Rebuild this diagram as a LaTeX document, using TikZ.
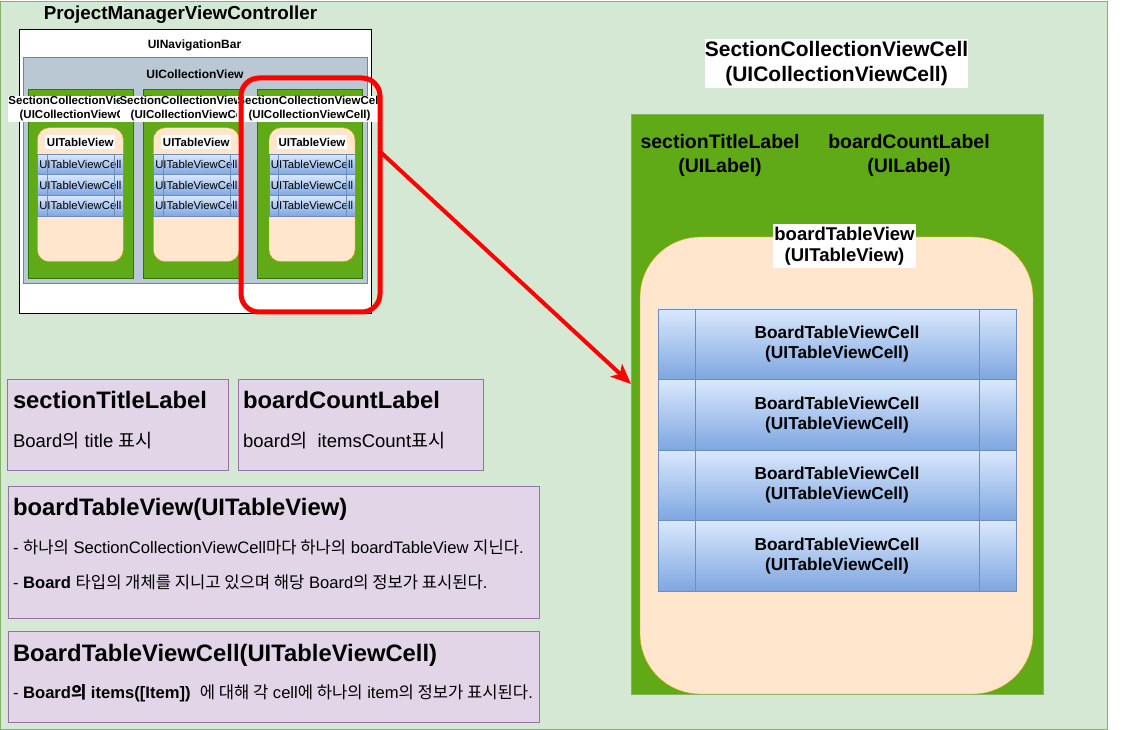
\documentclass[tikz,border=0pt]{standalone}
\usepackage{fontspec}
\setmainfont{Liberation Sans}
\newfontfamily\kr{Noto Sans CJK KR}
\usepackage{tikz}
\usetikzlibrary{positioning}
\usetikzlibrary{arrows.meta}
\newcommand{\fsz}[2]{\fontsize{#1}{#2}\selectfont}
\newcommand{\hangul}[1]{{\kr #1}}
\definecolor{bggreen}{HTML}{D5E8D4}
\definecolor{bgline}{HTML}{82B366}
\definecolor{cellgreen}{HTML}{60A917}
\definecolor{cellline}{HTML}{2D7600}
\definecolor{peach}{HTML}{FFE6CC}
\definecolor{peachline}{HTML}{D79B00}
\definecolor{rowtop}{HTML}{DAE8FC}
\definecolor{rowbottom}{HTML}{7EA6E0}
\definecolor{rowline}{HTML}{6C8EBF}
\definecolor{collfill}{HTML}{BAC8D3}
\definecolor{collline}{HTML}{6F879B}
\definecolor{notefill}{HTML}{E1D5E7}
\definecolor{noteline}{HTML}{9673A6}

\begin{document}
\begin{tikzpicture}[x=1pt,y=-1pt,
	every node/.style={inner sep=0pt,outer sep=0pt},
	greencell/.style={draw=cellline,fill=cellgreen,anchor=north west},
	peachtable/.style={draw=peachline,fill=peach,anchor=north west},
	rowcell/.style={draw=rowline,top color=rowtop,bottom color=rowbottom,anchor=north west},
	whitelabel/.style={fill=white,align=center},
	notebox/.style={draw=noteline,fill=notefill,anchor=north west},
	notehead/.style={anchor=base west,font=\fsz{23.8}{28}\bfseries},
	]
	\useasboundingbox (0,0) rectangle (1128,730);
	% Page %
	\filldraw [fill=bggreen,draw=bgline] (0.5,1) rectangle (1107,729.5);
	% Small View Controller %
	\node [anchor=base,font=\fsz{18.8}{22}\bfseries] (vctitle) at (180.5,20) {ProjectManagerViewController};
	\node [draw=black,fill=white,anchor=north west,minimum width=352,minimum height=284] (vcbox) at (19,29) {};
	\node [font=\fsz{12}{14}\bfseries] (navbar) at (194.5,45) {UINavigationBar};
	\node [draw=collline,fill=collfill,anchor=north west,minimum width=344,minimum height=226] (collview) at (23,57) {};
	\node [font=\fsz{12}{14}\bfseries] (colllabel) at (195,74) {UICollectionView};
	% Small Sections %
	\foreach \cx/\cw/\tx/\n in {27.7/105.7/37.3/a, 143.3/96.7/153.3/b, 256.7/105.7/269/c}
	{
		\node [greencell,minimum width=\cw,minimum height=189] (section\n) at (\cx,89.3) {};
		\node [peachtable,rounded corners=12,minimum width=86,minimum height=134] (table\n) at (\tx,127.7) {};
		\node [whitelabel,font=\fsz{11.5}{14}\bfseries,minimum width=70,minimum height=14] (tablelabel\n) at (\tx+43,142) {UITableView};
		\foreach \r in {0,1,2}
			{\node [rowcell,font=\fsz{11.3}{14},minimum width=86,minimum height=20.7] (row\n\r) at (\tx,154+20.7*\r) {UITableViewCell};}
		\draw [rowline] (\tx+9.5,154) -- (\tx+9.5,216.1);
		\draw [rowline] (\tx+77,154) -- (\tx+77,216.1);
	}
	\foreach \cx/\cw/\n in {27.7/105.7/a, 143.3/96.7/b, 256.7/105.7/c}
		{\node [whitelabel,font=\fsz{11.5}{14}\bfseries,minimum height=26] (sectionlabel\n) at (\cx+\cw/2,109) {SectionCollectionViewCell\\(UICollectionViewCell)};}
	% Focus and Arrow %
	\node [draw=red,line width=5,rounded corners=18,minimum width=139,minimum height=234] (focusbox) at (310.5,195) {};
	\coordinate (arrowtip) at (631,384);
	\draw [red,line width=4,-{Stealth[length=20,width=17,inset=5]}] (focusbox.32) -- (arrowtip);
	% Big Section Cell %
	\node [whitelabel,font=\fsz{21}{25}\bfseries,minimum width=263,minimum height=49] (celltitle) at (836.5,63.5) {SectionCollectionViewCell\\(UICollectionViewCell)};
	\node [fill=cellgreen,draw=bgline,anchor=north west,minimum width=412,minimum height=580] (bigcell) at (631,114) {};
	\node [align=center,font=\fsz{19.5}{24}\bfseries] (titlelabel) at (720,155) {sectionTitleLabel\\(UILabel)};
	\node [align=center,font=\fsz{19.5}{24}\bfseries] (countlabel) at (909,155) {boardCountLabel\\(UILabel)};
	\node [peachtable,rounded corners=60,minimum width=393,minimum height=457] (boardtable) at (640,237) {};
	\node [whitelabel,font=\fsz{18.5}{21}\bfseries,minimum width=143,minimum height=44] (boardtablelabel) at (844.5,246) {boardTableView\\(UITableView)};
	\foreach \r in {0,...,3}
		{\node [rowcell,align=center,font=\fsz{17.3}{20}\bfseries,minimum width=358,minimum height=70.5] (boardcell\r) at (658,309+70.5*\r) {BoardTableViewCell\\(UITableViewCell)};}
	\draw [rowline] (695,309) -- (695,591);
	\draw [rowline] (979,309) -- (979,591);
	% Notes %
	\node [notebox,minimum width=221,minimum height=91] (titlenote) at (7,379) {};
	\node [notehead] (titlenotehead) at (13,408) {sectionTitleLabel};
	\node [anchor=base west,font=\fsz{18.5}{22}] (titlenotebody) at (13,447) {Board\hangul{의} title \hangul{표시}};
	\node [notebox,minimum width=245,minimum height=91] (countnote) at (238,379) {};
	\node [notehead] (countnotehead) at (243,408) {boardCountLabel};
	\node [anchor=base west,font=\fsz{18.5}{22}] (countnotebody) at (243,447) {board\hangul{의}\ \ itemsCount\hangul{표시}};
	\node [notebox,minimum width=531,minimum height=132] (tablenote) at (8,486) {};
	\node [notehead] (tablenotehead) at (13,515) {boardTableView(UITableView)};
	\node [anchor=base west,font=\fsz{16.6}{19}] (tablenoteone) at (13,553) {- \hangul{하나의} SectionCollectionViewCell\hangul{마다 하나의} boardTableView \hangul{지닌다}.};
	\node [anchor=base west,font=\fsz{16.6}{19}] (tablenotetwo) at (13,588) {- \textbf{Board} \hangul{타입의 개체를 지니고 있으며 해당} Board\hangul{의 정보가 표시된다}.};
	\node [notebox,minimum width=531,minimum height=91] (cellnote) at (8,631) {};
	\node [notehead] (cellnotehead) at (13,661) {BoardTableViewCell(UITableViewCell)};
	\node [anchor=base west,font=\fsz{16.6}{19}] (cellnotebody) at (13,698) {- \textbf{Board\hangul{의} items([Item])}\ \ \hangul{에 대해 각} cell\hangul{에 하나의} item\hangul{의 정보가 표시된다}.};
\end{tikzpicture}
\end{document}
